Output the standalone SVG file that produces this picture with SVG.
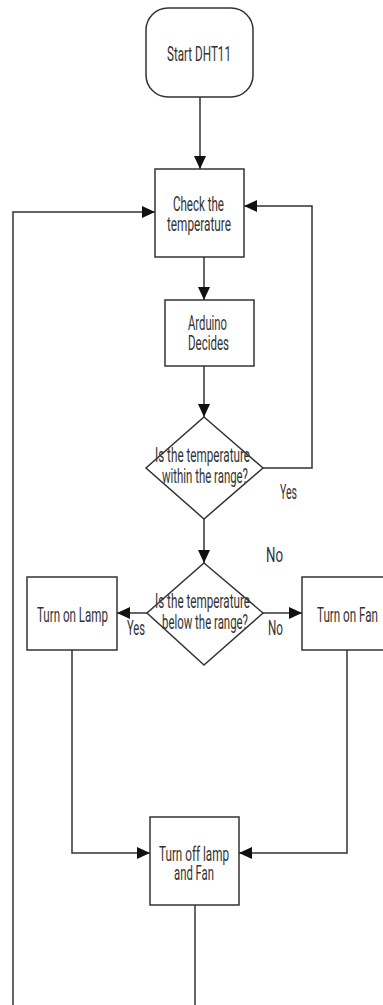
<svg xmlns="http://www.w3.org/2000/svg" width="383" height="1005" viewBox="0 0 383 1005">
<style>
.n{fill:#fff;stroke:#333;stroke-width:1.5}
.c{fill:none;stroke:#333;stroke-width:1.5}
text{font-family:Roboto,"Liberation Sans",sans-serif;font-size:19.5px;fill:#333}
</style>
<defs>
<marker id="ah" markerUnits="userSpaceOnUse" markerWidth="13" markerHeight="12" refX="13" refY="6" orient="auto">
<path d="M0,0 L13,6 L0,12 z" fill="#111"/>
</marker>
</defs>
<rect width="383" height="1005" fill="#fff"/>
<g id="connectors">
<path class="c" d="M200,97 V169" marker-end="url(#ah)"/>
<path class="c" d="M204,257 V300" marker-end="url(#ah)"/>
<path class="c" d="M204,366 V417" marker-end="url(#ah)"/>
<path class="c" d="M263,468 H312 V206 H244" marker-end="url(#ah)"/>
<path class="c" d="M204,519 V563" marker-end="url(#ah)"/>
<path class="c" d="M147,613 H117" marker-end="url(#ah)"/>
<path class="c" d="M263,613 H302" marker-end="url(#ah)"/>
<path class="c" d="M72,650 V853 H150" marker-end="url(#ah)"/>
<path class="c" d="M347,650 V853 H239" marker-end="url(#ah)"/>
<path class="c" d="M195,905 V1005"/>
<path class="c" d="M13,1005 V212 H155" marker-end="url(#ah)"/>
<text x="280" y="499" textLength="17" lengthAdjust="spacingAndGlyphs">Yes</text>
<text x="266" y="562" textLength="17" lengthAdjust="spacingAndGlyphs">No</text>
<text x="127" y="635" textLength="18" lengthAdjust="spacingAndGlyphs">Yes</text>
<text x="268" y="635" textLength="15" lengthAdjust="spacingAndGlyphs">No</text>
</g>
<g id="start">
<rect class="n" x="146" y="8" width="107" height="89" rx="22"/>
<text x="167" y="61" textLength="64" lengthAdjust="spacingAndGlyphs">Start DHT11</text>
</g>
<g id="check">
<rect class="n" x="155" y="169" width="89" height="88"/>
<text x="173" y="211" textLength="51" lengthAdjust="spacingAndGlyphs">Check the</text>
<text x="167" y="231" textLength="64" lengthAdjust="spacingAndGlyphs">temperature</text>
</g>
<g id="arduino">
<rect class="n" x="165" y="300" width="89" height="66"/>
<text x="188" y="330" textLength="39" lengthAdjust="spacingAndGlyphs">Arduino</text>
<text x="188" y="350" textLength="41" lengthAdjust="spacingAndGlyphs">Decides</text>
</g>
<g id="within">
<polygon class="n" points="204,417 263,468 204,519 146,468"/>
<text x="155" y="462" textLength="95" lengthAdjust="spacingAndGlyphs">Is the temperature</text>
<text x="162" y="483" textLength="86" lengthAdjust="spacingAndGlyphs">within the range?</text>
</g>
<g id="below">
<polygon class="n" points="204,563 263,613 204,665 147,613"/>
<text x="155" y="608" textLength="95" lengthAdjust="spacingAndGlyphs">Is the temperature</text>
<text x="162" y="629" textLength="86" lengthAdjust="spacingAndGlyphs">below the range?</text>
</g>
<g id="lamp">
<rect class="n" x="27" y="577" width="90" height="73"/>
<text x="37" y="622" textLength="71" lengthAdjust="spacingAndGlyphs">Turn on Lamp</text>
</g>
<g id="fan">
<rect class="n" x="302" y="577" width="95" height="73"/>
<text x="317" y="622" textLength="61" lengthAdjust="spacingAndGlyphs">Turn on Fan</text>
</g>
<g id="off">
<rect class="n" x="150" y="817" width="89" height="88"/>
<text x="159" y="861" textLength="70" lengthAdjust="spacingAndGlyphs">Turn off lamp</text>
<text x="174" y="880" textLength="40" lengthAdjust="spacingAndGlyphs">and Fan</text>
</g>
</svg>
